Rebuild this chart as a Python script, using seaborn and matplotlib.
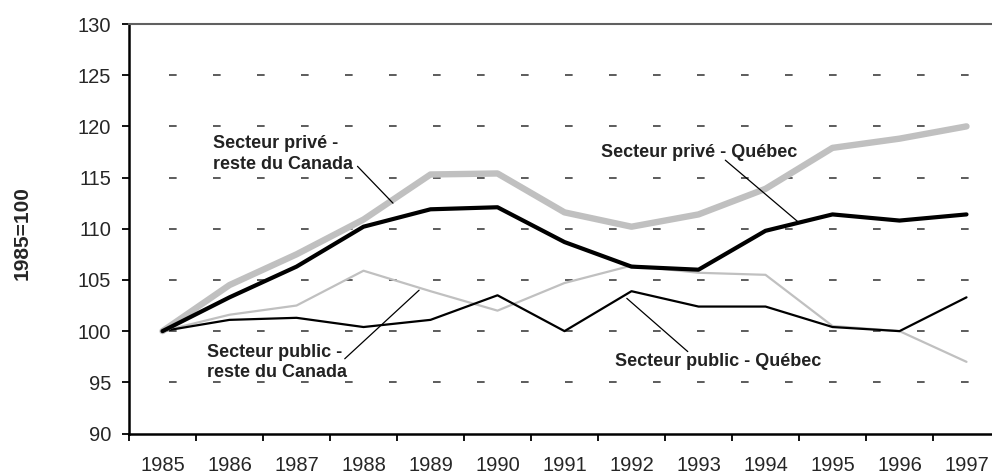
import matplotlib
matplotlib.use("Agg")
import matplotlib.pyplot as plt
import seaborn as sns
import pandas as pd

# indices 1985=100
years = [str(y) for y in range(1985, 1998)]
prive_rdc = [100, 104.5, 107.5, 110.9, 115.3, 115.4, 111.6, 110.2, 111.4, 113.9, 117.9, 118.8, 120.0]
prive_qc = [100, 103.3, 106.3, 110.2, 111.9, 112.1, 108.7, 106.3, 106.0, 109.8, 111.4, 110.8, 111.4]
public_rdc = [100, 101.6, 102.5, 105.9, 103.9, 102.0, 104.7, 106.4, 105.7, 105.5, 100.5, 100.0, 97.0]
public_qc = [100, 101.1, 101.3, 100.4, 101.1, 103.5, 100.0, 103.9, 102.4, 102.4, 100.4, 100.0, 103.3]

yticks = list(range(90, 131, 5))

# label text, text pos (x, y), leader start, leader end
labels = [
    ("Secteur privé -\nreste du Canada", (0.75, 117.3), (2.91, 116.1), (3.44, 112.5)),
    ("Secteur privé - Québec", (6.54, 117.4), (8.40, 116.7), (9.49, 110.65)),
    ("Secteur public -\nreste du Canada", (0.66, 96.9), (2.72, 97.3), (3.83, 104.0)),
    ("Secteur public - Québec", (6.75, 97.0), (7.84, 98.0), (6.93, 103.2)),
]

sns.set_style("white")
plt.rcParams['font.family'] = ['Liberation Sans', 'DejaVu Sans']

df = pd.DataFrame({"pos": range(len(years)), "year": years,
                   "prive_rdc": prive_rdc, "prive_qc": prive_qc,
                   "public_rdc": public_rdc, "public_qc": public_qc})

fig = plt.figure(figsize=(9.92, 4.75), dpi=100)
ax = fig.add_axes([129 / 992, 41.5 / 475, 871 / 992, 409.5 / 475])

# dashed grid, phase matched to the reference
for v in yticks[1:]:
    ax.hlines(v, -0.5 + 40 / 67, 12.5, colors="#303030", linewidth=1.1,
              linestyles=(0, (5.0, 23.8)), zorder=1)

styles = [("public_rdc", "#c0c0c0", 1.6), ("public_qc", "black", 1.6),
          ("prive_rdc", "#c0c0c0", 4.6), ("prive_qc", "black", 3.0)]
for col, c, lw in styles:
    sns.lineplot(data=df, x="pos", y=col, color=c, linewidth=lw, ax=ax, zorder=3)

for txt, tpos, p0, p1 in labels:
    ax.text(tpos[0], tpos[1], txt, fontsize=13, fontweight="bold", color="#222222",
            ha="left", va="center", linespacing=1.25, zorder=5)
    ax.annotate("", xy=p1, xytext=p0,
                arrowprops=dict(arrowstyle="-", color="black", lw=0.9, shrinkA=0, shrinkB=0),
                zorder=4)

ax.set_xlim(-0.5, 12.5)
ax.set_ylim(90, 130)
ax.set_yticks(yticks)
ax.set_xticks([i - 0.5 for i in range(len(years))])
ax.set_xticklabels([])
ax.set_xticks(range(len(years)), minor=True)
ax.set_xticklabels(years, minor=True)
ax.tick_params(axis="x", which="major", direction="out", length=5, width=1.3, color="black", bottom=True)
ax.tick_params(axis="x", which="minor", length=0, labelsize=14.5, pad=16)
ax.tick_params(axis="y", direction="out", length=5, width=1.3, color="black", labelsize=14.5, pad=8, left=True)
ax.set_xlabel("")
ax.set_ylabel("1985=100", fontsize=15, fontweight="bold")
ax.yaxis.set_label_coords(-97 / 871, 0.49)

for s in ["left", "bottom"]:
    ax.spines[s].set_color("black")
    ax.spines[s].set_linewidth(1.8)
ax.spines["top"].set_color("#606060")
ax.spines["top"].set_linewidth(1.5)
ax.spines["right"].set_visible(False)

fig.savefig("out.png", dpi=100)
